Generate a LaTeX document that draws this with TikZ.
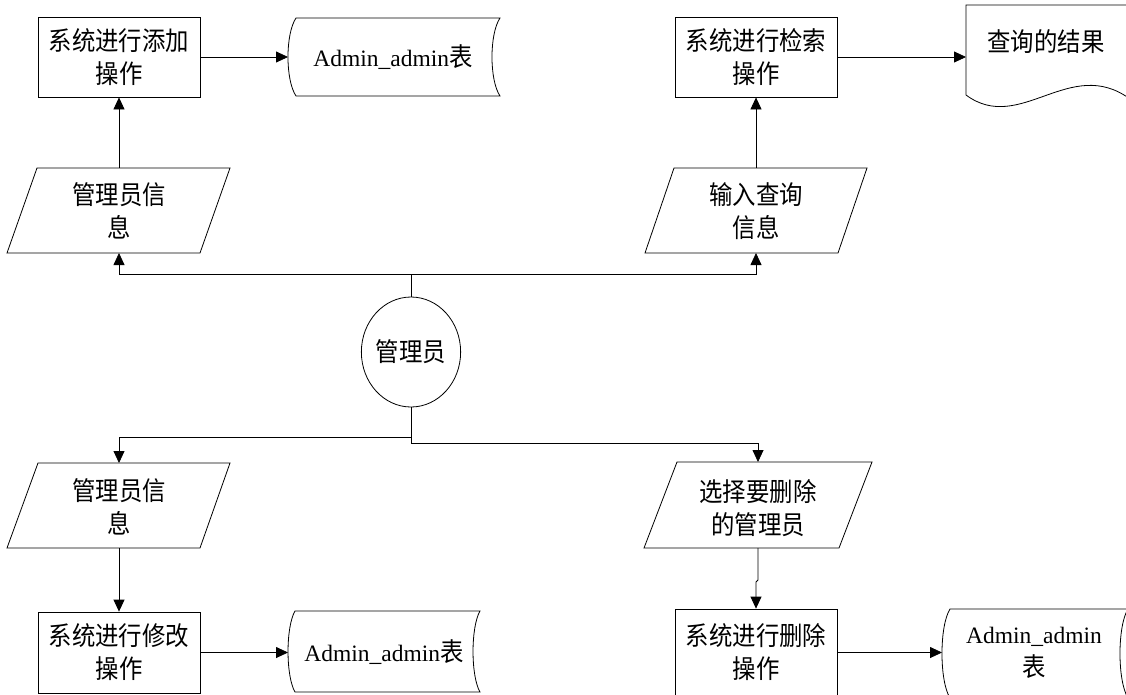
\documentclass[tikz,border=0pt]{standalone}
\usepackage{fontspec}
\setmainfont{Liberation Serif}
\newfontfamily\cjk[FakeStretch=0.9]{Noto Sans CJK SC}
\usetikzlibrary{arrows.meta,shapes.geometric}
\newcommand{\latn}[1]{{\rmfamily\fontsize{23.5}{33}\selectfont #1}}
\begin{document}
\begin{tikzpicture}[x=1pt,y=-1pt,line width=0.8pt,
  txt/.style={font=\cjk\fontsize{26}{33}\selectfont,align=center,inner sep=0pt},
  proc/.style={draw,rectangle,minimum width=162pt,minimum height=80pt,txt},
  arr/.style={-{Triangle[length=12pt,width=11pt]}}]
\useasboundingbox (0,0) rectangle (1126,694);

% process boxes
\node[proc] (add) at (119,57) {系统进行添加\\操作};
\node[proc] (search) at (756,57) {系统进行检索\\操作};
\node[proc,minimum height=81pt] (mod) at (119,652.5) {系统进行修改\\操作};
\node[proc,minimum height=87pt] (del) at (756,652.5) {系统进行删除\\操作};

% actor
\node[draw,ellipse,minimum width=83pt,minimum height=110pt,txt] (admin) at (411,352) {管理员};

% parallelograms (input data)
\draw (37,168) -- (230,168) -- (200,253) -- (7,253) -- cycle;
\node[txt] (p1) at (119,211) {管理员信\\息};
\draw (674,168) -- (867,168) -- (838,253) -- (645,253) -- cycle;
\node[txt] (p2) at (756,211) {输入查询\\信息};
\draw (38,463) -- (230,463) -- (200,548) -- (7,548) -- cycle;
\node[txt] (p3) at (119,507) {管理员信\\息};
\draw (677,462) -- (872,462) -- (839,548) -- (644,548) -- cycle;
\node[txt] (p4) at (758,508) {选择要删除\\的管理员};

% stored data shapes
\draw (296,18) -- (500,18) .. controls (489.3,34) and (489.3,80) .. (500,96)
  -- (296,96) .. controls (285.3,80) and (285.3,34) .. (296,18) -- cycle;
\node[txt] (sd1) at (393,57) {\latn{Admin\_admin}表};
\draw (295,611) -- (480,611) .. controls (470.7,627) and (470.7,676) .. (480,692)
  -- (295,692) .. controls (285.7,676) and (285.7,627) .. (295,611) -- cycle;
\node[txt] (sd2) at (384,652.5) {\latn{Admin\_admin}表};
\draw (950,609) -- (1128,609) .. controls (1117.3,626) and (1117.3,681) .. (1128,698)
  -- (950,698) .. controls (939.3,681) and (939.3,626) .. (950,609) -- cycle;
\node[txt] (sd3) at (1034,653) {\latn{Admin\_admin}\\表};

% document shape
\draw (1130,5) -- (966,5) -- (966,95) .. controls (1020,135) and (1070,55) .. (1130,99);
\node[txt] (doc) at (1046,42) {查询的结果};

% connector points
\coordinate (p1t) at (119,168);
\coordinate (p1b) at (119,253);
\coordinate (p2t) at (756,168);
\coordinate (p2b) at (756,253);
\coordinate (p3t) at (119,463);
\coordinate (p3b) at (119,548);
\coordinate (p4t) at (758,462);
\coordinate (p4b) at (758,548);
\coordinate (sd1w) at (288,57);
\coordinate (sd2w) at (288,652.5);
\coordinate (sd3w) at (942,652.5);
\coordinate (docw) at (966,57);
\coordinate (jt) at (411,274);
\coordinate (jb1) at (411,437);
\coordinate (jb2) at (411,443);
\coordinate (k1) at (758,580);
\coordinate (k2) at (756,582);

% connectors
\draw[arr] (p1t) -- (add.south);
\draw[arr] (add.east) -- (sd1w);
\draw[arr] (p2t) -- (search.south);
\draw[arr] (search.east) -- (docw);
\draw[arr] (admin.north) -- (jt) -| (p1b);
\draw[arr] (jt) -| (p2b);
\draw[arr] (admin.south) -- (jb1) -| (p3t);
\draw[arr] (jb1) -- (jb2) -| (p4t);
\draw[arr] (p3b) -- (mod.north);
\draw[arr] (mod.east) -- (sd2w);
\draw[arr] (p4b) -- (k1) -- (k2) -- (del.north);
\draw[arr] (del.east) -- (sd3w);
\end{tikzpicture}
\end{document}
